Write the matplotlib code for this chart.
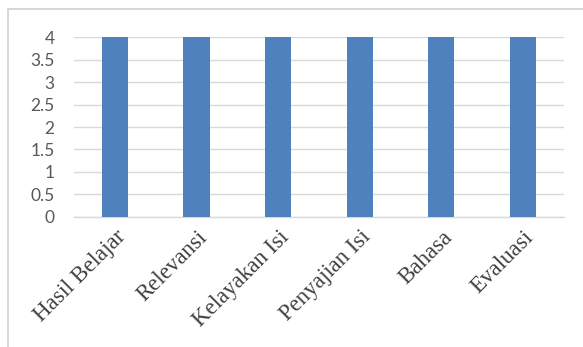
import matplotlib.pyplot as plt
from matplotlib.patches import Rectangle

categories = ['Hasil Belajar', 'Relevansi', 'Kelayakan Isi', 'Penyajian Isi', 'Bahasa', 'Evaluasi']
values = [4, 4, 4, 4, 4, 4]
yticks = [0, 0.5, 1, 1.5, 2, 2.5, 3, 3.5, 4]
ytick_labels = ['0', '0.5', '1', '1.5', '2', '2.5', '3', '3.5', '4']

fig = plt.figure(figsize=(5.83, 3.47), dpi=100)
ax = fig.add_axes([0.127, 0.375, 0.840, 0.518])

# chart frame (light grey, runs off the right and bottom edges)
fig.patches.append(Rectangle((8 / 583, -0.1), 1.2, 1.1 - 9 / 347,
                             transform=fig.transFigure, fill=False,
                             edgecolor='#d0d0d0', linewidth=1.2))

x = range(len(categories))
ax.bar(x, values, width=0.32, color='#4f81bd', zorder=3)
ax.set_xlim(-0.5, len(categories) - 0.5)
ax.set_ylim(0, 4)
ax.set_yticks(yticks)
ax.set_yticklabels(ytick_labels, fontfamily='Lato', fontsize=12.5, color='#595959')
ax.set_xticks(list(x))
ax.set_xticklabels(categories, rotation=45, ha='right', rotation_mode='anchor',
                   fontfamily='Liberation Serif', fontsize=16.5, color='#404040')
ax.tick_params(length=0, pad=7)
ax.tick_params(axis='y', pad=14)
ax.grid(axis='y', color='#d9d9d9', linewidth=1.0, zorder=0)
for s in ['top', 'right', 'left']:
    ax.spines[s].set_visible(False)
ax.spines['bottom'].set_color('#d9d9d9')
ax.spines['bottom'].set_linewidth(1.0)

fig.savefig('out.png', dpi=100)
